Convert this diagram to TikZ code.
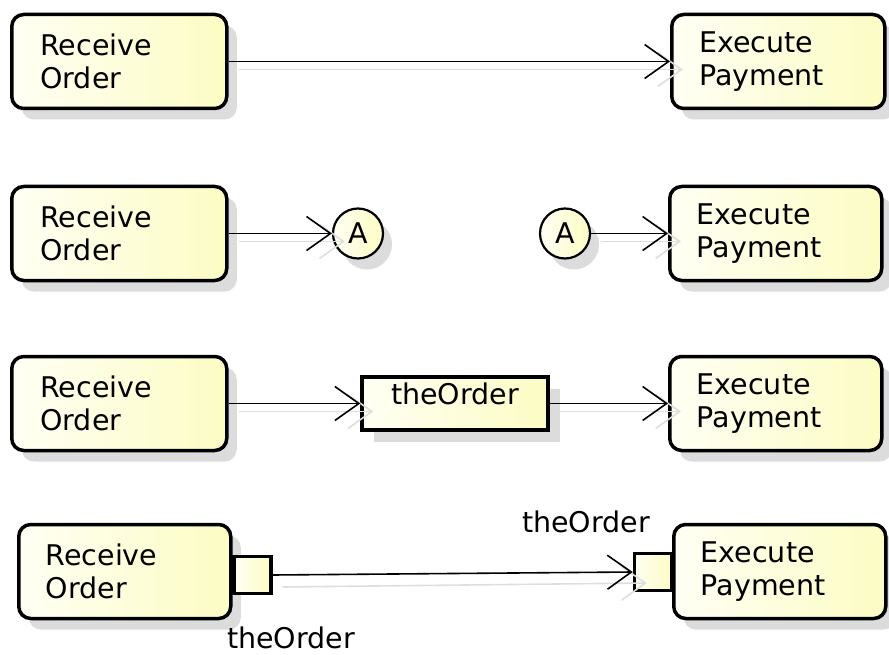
\documentclass[tikz,border=0pt]{standalone}
\usepackage{fontspec}
\setmainfont{DejaVu Sans}
\usetikzlibrary{arrows.meta,shadows}

\definecolor{noteLight}{RGB}{255,255,244}
\definecolor{noteDark}{RGB}{252,252,196}
\definecolor{shadeGray}{RGB}{220,220,220}
\definecolor{ghostGray}{RGB}{222,222,222}

\tikzset{
  txt/.style={font=\fontsize{28.5}{33}\selectfont},
  action/.style={txt, draw, line width=3.5pt, rounded corners=12pt,
    left color=noteLight, right color=noteDark,
    minimum height=94pt, text width=158pt, align=left,
    inner xsep=27pt, inner ysep=0pt, anchor=west,
    drop shadow={shadow xshift=10pt, shadow yshift=-11pt, fill=shadeGray, opacity=1}},
  connector/.style={txt, circle, draw, line width=2.2pt, minimum size=50pt,
    inner sep=0pt, left color=noteLight, right color=noteDark,
    drop shadow={shadow xshift=9pt, shadow yshift=-11pt, fill=shadeGray, opacity=1}},
  objbox/.style={txt, draw, line width=3.5pt, minimum width=186pt,
    text height=27pt, text depth=26pt, inner ysep=0pt,
    left color=noteLight, right color=noteDark,
    drop shadow={shadow xshift=12pt, shadow yshift=-12pt, fill=shadeGray, opacity=1}},
  pinbox/.style={draw, line width=3.5pt, minimum size=37pt, inner sep=0pt,
    left color=noteLight, right color=noteDark},
  pinlabel/.style={txt, inner sep=0pt, anchor=base west},
  flow/.style={line width=1.6pt, -{Straight Barb[length=24pt,width=34pt,line width=1.6pt]}},
  ghost/.style={draw=ghostGray, line width=1.6pt,
    -{Straight Barb[length=24pt,width=34pt,line width=1.6pt,color=ghostGray]}}
}

\begin{document}
\begin{tikzpicture}[x=1pt,y=-1pt]
  \useasboundingbox (0,0) rectangle (889,655);

  % row 1: plain flow
  \node[action, minimum width=215pt] (ro1) at (10,61.5) {Receive\\Order};
  \node[action, minimum width=213pt] (ep1) at (670,61.5) {Execute\\Payment};

  % row 2: connectors
  \node[action, minimum width=215pt] (ro2) at (10,233.5) {Receive\\Order};
  \node[connector] (ca) at (358,233.5) {A};
  \node[connector] (cb) at (565,233.5) {A};
  \node[action, minimum width=211pt] (ep2) at (668,233.5) {Execute\\Payment};

  % row 3: object node
  \node[action, minimum width=215pt] (ro3) at (10,403.5) {Receive\\Order};
  \node[objbox] (ob) at (455,403.5) {theOrder};
  \node[action, minimum width=211pt] (ep3) at (668,403.5) {Execute\\Payment};

  % row 4: pins
  \node[action, minimum width=211pt] (ro4) at (17,571.5) {Receive\\Order};
  \node[action, minimum width=212pt] (ep4) at (672,571.5) {Execute\\Payment};
  \node[pinbox] (pa) at (252.5,575) {};
  \node[pinbox] (pb) at (653,572) {};
  \node[pinlabel] (la) at (227,648) {theOrder};
  \node[pinlabel] (lb) at (522,532) {theOrder};

  % faint copies of the flows
  \draw[ghost] ([xshift=10pt,yshift=-8pt]ro1.east) -- ([xshift=13pt,yshift=-8pt]ep1.west);
  \draw[ghost] ([xshift=10pt,yshift=-8pt]ro2.east) -- ([xshift=13pt,yshift=-8pt]ca.west);
  \draw[ghost] ([xshift=10pt,yshift=-8pt]cb.east) -- ([xshift=13pt,yshift=-8pt]ep2.west);
  \draw[ghost] ([xshift=10pt,yshift=-8pt]ro3.east) -- ([xshift=13pt,yshift=-8pt]ob.west);
  \draw[ghost] ([xshift=10pt,yshift=-8pt]ob.east) -- ([xshift=13pt,yshift=-8pt]ep3.west);
  \draw[ghost] ([xshift=10pt,yshift=-12pt]pa.east) -- ([xshift=14pt,yshift=-11pt]pb.west);

  \draw[flow] (ro1.east) -- (ep1.west);
  \draw[flow] (ro2.east) -- (ca.west);
  \draw[flow] (cb.east) -- (ep2.west);
  \draw[flow] (ro3.east) -- (ob.west);
  \draw[flow] (ob.east) -- (ep3.west);
  \draw[flow] (pa.east) -- (pb.west);
\end{tikzpicture}
\end{document}
